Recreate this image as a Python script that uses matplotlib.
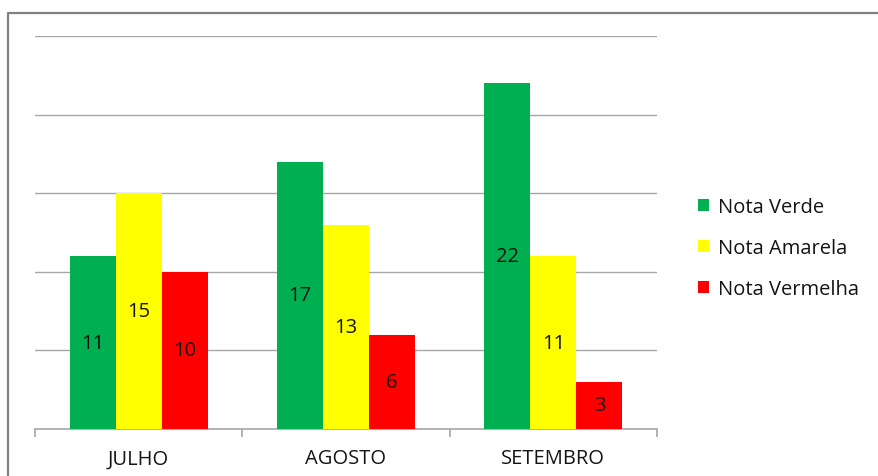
import matplotlib
matplotlib.use("Agg")
import matplotlib.pyplot as plt
from matplotlib.lines import Line2D
import numpy as np

plt.rcParams['font.family'] = ['Open Sans', 'DejaVu Sans']

categories = ["JULHO", "AGOSTO", "SETEMBRO"]
series_names = ["Nota Verde", "Nota Amarela", "Nota Vermelha"]
verde = [11, 17, 22]
amarela = [15, 13, 11]
vermelha = [10, 6, 3]
colors = ["#00B050", "#FFFF00", "#FF0000"]

W, H = 879, 477
fig = plt.figure(figsize=(W / 100, H / 100), dpi=100)
ax = fig.add_axes([35 / W, 1 - 430 / H, (657 - 35) / W, (430 - 37) / H])

x = np.arange(len(categories))
bw = 1 / 4.5
series = [verde, amarela, vermelha]
handles = []
for i, (vals, name, col) in enumerate(zip(series, series_names, colors)):
    bars = ax.bar(x + (i - 1) * bw, vals, width=bw, color=col, label=name, zorder=3)
    handles.append(bars)
    for b, v in zip(bars, vals):
        ax.text(b.get_x() + b.get_width() / 2, v / 2, str(v), ha="center", va="center",
                fontsize=14.5, color="#141414", zorder=4)

ax.set_xlim(-0.5, len(categories) - 0.5)
ax.set_ylim(0, 25)
ax.set_yticks([5, 10, 15, 20, 25])
ax.yaxis.grid(True, color="#A6A6A6", linewidth=1.0, zorder=0)
ax.tick_params(axis="y", left=False, labelleft=False)
for s in ["left", "right", "top"]:
    ax.spines[s].set_visible(False)
ax.spines["bottom"].set_color("#A6A6A6")
ax.spines["bottom"].set_linewidth(1.2)

ax.set_xticks(x)
ax.set_xticklabels(categories, fontsize=14.5, color="#141414")
ax.set_xticks(np.arange(-0.5, len(categories)), minor=True)
ax.tick_params(axis="x", which="major", length=0, pad=14)
ax.tick_params(axis="x", which="minor", length=5.5, color="#A6A6A6", width=1.2)

leg = fig.legend(handles=handles, labels=series_names, loc="center left",
                 bbox_to_anchor=(680 / W, 1 - 249 / H), frameon=False,
                 fontsize=14.5, handlelength=0.55, handleheight=0.55,
                 handletextpad=0.45, labelspacing=1.05, labelcolor="#141414")

# figure border (top and left)
fig.add_artist(Line2D([8 / W, 8 / W, 1.0], [0.0, 1 - 14 / H, 1 - 14 / H],
                      transform=fig.transFigure, color="#808080", linewidth=1.6))

fig.savefig("out.png", dpi=100)
